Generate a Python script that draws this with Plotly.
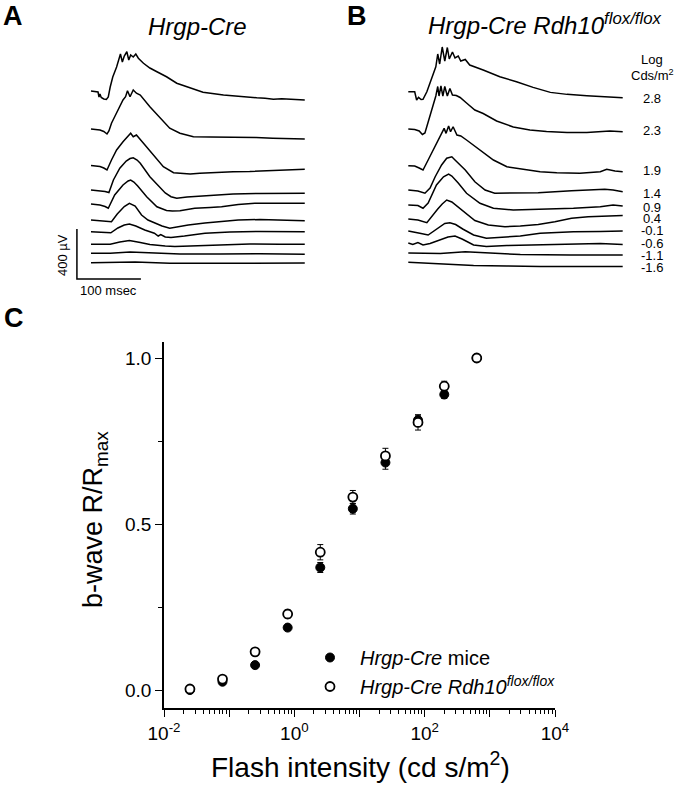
import plotly.graph_objects as go

W, H = 675, 789
FONT = "Arial, Liberation Sans, sans-serif"

# ---------------- Panel A / B data : ERG traces (time ms, amplitude uV) ----------------
INTENSITY_LABELS = ["2.8", "2.3", "1.9", "1.4", "0.9", "0.4", "-0.1", "-0.6", "-1.1", "-1.6"]

HC_OFFSETS = [1504, 1200, 908, 712, 600, 472, 378, 278, 206, 130]
RDH_OFFSETS = [1498, 1200, 906, 712, 592, 480, 384, 288, 208, 134]

HC_28_T = [0, 8, 11, 12.5, 14, 16, 20, 24, 27, 30, 34, 40, 44, 46, 49, 52, 56, 59, 62, 66, 70, 74, 82, 92, 103, 118, 134, 155, 175, 207, 233, 259, 272, 285, 298, 311, 322, 334]
HC_28_V = [0, -4, -8, -48, -24, -52, -64, -68, -48, 32, 112, 192, 256, 296, 232, 280, 314, 248, 288, 272, 296, 262, 222, 184, 154, 114, 62, 22, -10, -32, -46, -54, -58, -66, -62, -66, -64, -72]
HC_23_T = [0, 14, 20, 25, 28, 32, 37, 45, 50, 54, 57, 61, 66, 71, 77, 92, 108, 123, 139, 160, 186, 206, 233, 258, 284, 311, 334]
HC_23_V = [0, -8, -20, -40, -16, 46, 98, 178, 232, 258, 306, 258, 312, 286, 272, 178, 86, 6, -34, -62, -64, -64, -62, -68, -74, -76, -80]
HC_19_T = [0, 14, 20, 25, 32, 40, 50, 58, 62, 66, 71, 82, 97, 113, 129, 142, 155, 170, 196, 222, 248, 274, 303, 334]
HC_19_V = [0, -8, -20, -36, 44, 124, 190, 230, 258, 230, 244, 178, 84, -10, -58, -62, -68, -62, -54, -50, -48, -44, -36, -30]
HC_14_T = [0, 14, 22, 28, 35, 45, 55, 61, 66, 72, 77, 92, 105, 116, 125, 134, 150, 170, 196, 222, 264, 303, 334]
HC_14_V = [0, -4, -12, -20, 80, 174, 232, 252, 258, 240, 214, 106, 40, -24, -54, -66, -56, -48, -40, -32, -28, -26, -26]
HC_09_T = [0, 14, 22, 27, 37, 50, 58, 62, 67, 73, 87, 103, 118, 127, 139, 162, 186, 204, 230, 256, 295, 334]
HC_09_V = [0, -8, -20, -34, 72, 152, 184, 192, 176, 144, 58, -22, -52, -56, -54, -34, -28, -22, -4, 6, 6, 6]
HC_04_T = [0, 14, 23, 32, 41, 52, 60, 69, 79, 89, 99, 111, 123, 136, 152, 178, 203, 230, 264, 303, 334]
HC_04_V = [0, -4, -8, -14, 48, 108, 134, 112, 40, 0, -22, -48, -66, -54, -40, -24, -14, 0, 4, 0, -6]
HC_m01_T = [0, 22, 31, 42, 52, 60, 70, 84, 99, 105, 109, 116, 125, 146, 178, 217, 264, 334]
HC_m01_V = [0, -2, -8, 30, 54, 62, 46, 14, -12, -34, -22, -42, -46, -34, -12, -2, 2, 0]
HC_m06_T = [0, 30, 45, 60, 77, 92, 116, 131, 155, 202, 248, 295, 334]
HC_m06_V = [0, 0, 18, 29, 14, -2, -14, -19, -14, -6, 2, 0, 0]
HC_m11_T = [0, 30, 61, 92, 139, 202, 264, 334]
HC_m11_V = [0, 0, 10, 6, -6, -6, -4, -8]
HC_m16_T = [0, 45, 69, 123, 202, 264, 334]
HC_m16_V = [0, 3, 6, -5, -6, -2, -2]

RDH_28_T = [0, 10, 13, 16, 20, 23, 29, 34, 39, 43, 46, 49, 53, 57, 61, 64, 69, 73, 78, 82, 89, 96, 117, 143, 169, 195, 222, 248, 279, 310, 335]
RDH_28_V = [0, 0, -66, -45, -62, -61, 0, 67, 147, 200, 302, 222, 358, 246, 354, 262, 318, 270, 286, 246, 258, 214, 174, 120, 80, 35, -5, -21, -32, -40, -48]
RDH_23_T = [0, 10, 17, 22, 26, 31, 35, 39, 43, 46, 48, 51, 54, 57, 61, 65, 69, 75, 81, 91, 104, 117, 138, 164, 190, 216, 248, 279, 300, 315, 335]
RDH_23_V = [0, -4, -16, -44, -32, 56, 128, 184, 264, 340, 264, 344, 264, 340, 264, 324, 272, 268, 252, 208, 152, 124, 64, 16, -8, -20, -28, -28, -20, -16, -22]
RDH_19_T = [0, 10, 17, 23, 31, 39, 47, 52, 56, 59, 63, 66, 70, 76, 82, 91, 112, 133, 154, 180, 206, 232, 268, 300, 310, 323, 335]
RDH_19_V = [0, -2, -18, -34, 46, 126, 206, 259, 299, 259, 318, 272, 312, 246, 238, 206, 126, 46, -8, -29, -48, -56, -61, -48, -29, -42, -48]
RDH_14_T = [0, 15, 26, 34, 42, 52, 60, 68, 73, 89, 104, 120, 135, 162, 203, 255, 307, 320, 335]
RDH_14_V = [0, -8, -26, 16, 106, 200, 254, 266, 240, 160, 66, 0, -26, -26, -22, -6, 6, 0, -14]
RDH_09_T = [0, 15, 23, 31, 44, 55, 63, 68, 78, 91, 112, 133, 164, 206, 258, 300, 320, 335]
RDH_09_V = [0, -4, -26, 16, 160, 226, 248, 232, 176, 94, 14, -26, -40, -34, -26, -14, 0, -8]
RDH_04_T = [0, 15, 29, 37, 46, 53, 60, 68, 78, 89, 104, 125, 151, 175, 203, 229, 255, 281, 307, 335]
RDH_04_V = [0, -8, -30, 24, 80, 120, 152, 136, 96, 46, -12, -48, -62, -56, -44, -22, 6, 18, 24, 28]
RDH_m01_T = [0, 10, 18, 31, 40, 50, 57, 65, 74, 85, 102, 122, 154, 175, 206, 258, 300, 335]
RDH_m01_V = [0, -8, -18, -32, 0, 34, 60, 66, 52, 16, -32, -58, -50, -40, -18, -6, -4, 0]
RDH_m06_T = [0, 7, 15, 23, 34, 50, 62, 73, 84, 102, 122, 154, 206, 258, 300, 335]
RDH_m06_V = [0, -12, 4, -16, -4, 24, 48, 56, 32, -16, -28, -20, -16, -12, -4, -12]
RDH_m11_T = [0, 50, 89, 128, 175, 253, 335]
RDH_m11_V = [0, -4, 10, 0, -12, -16, -16]
RDH_m16_T = [0, 50, 102, 154, 206, 335]
RDH_m16_V = [0, -14, -26, -30, -35, -35]

HC_TRACES = [(HC_28_T, HC_28_V), (HC_23_T, HC_23_V), (HC_19_T, HC_19_V), (HC_14_T, HC_14_V),
             (HC_09_T, HC_09_V), (HC_04_T, HC_04_V), (HC_m01_T, HC_m01_V), (HC_m06_T, HC_m06_V),
             (HC_m11_T, HC_m11_V), (HC_m16_T, HC_m16_V)]
RDH_TRACES = [(RDH_28_T, RDH_28_V), (RDH_23_T, RDH_23_V), (RDH_19_T, RDH_19_V), (RDH_14_T, RDH_14_V),
              (RDH_09_T, RDH_09_V), (RDH_04_T, RDH_04_V), (RDH_m01_T, RDH_m01_V), (RDH_m06_T, RDH_m06_V),
              (RDH_m11_T, RDH_m11_V), (RDH_m16_T, RDH_m16_V)]

SCALE_BAR_MS = 100
SCALE_BAR_UV = 400

# ---------------- Panel C data ----------------
FLASH_INTENSITY = [0.025, 0.079, 0.25, 0.79, 2.5, 7.9, 25, 79, 200, 630]
HC_RRMAX = [0.0, 0.025, 0.075, 0.188, 0.369, 0.546, 0.685, 0.813, 0.890, 1.0]
HC_ERR = [0.004, 0.006, 0.005, 0.008, 0.015, 0.016, 0.02, 0.015, 0.012, 0.0]
RDH_RRMAX = [0.003, 0.033, 0.115, 0.229, 0.415, 0.581, 0.705, 0.806, 0.915, 1.0]
RDH_ERR = [0.005, 0.006, 0.005, 0.012, 0.023, 0.02, 0.023, 0.023, 0.015, 0.004]


def px(x):
    return x / W


def py(y):
    return 1 - y / H


fig = go.Figure()

# ERG traces
for (t, v), off in zip(HC_TRACES, HC_OFFSETS):
    fig.add_trace(go.Scatter(x=t, y=[a + off for a in v], mode="lines",
                             line=dict(color="black", width=1.5), showlegend=False,
                             xaxis="x", yaxis="y", hoverinfo="skip"))
for (t, v), off in zip(RDH_TRACES, RDH_OFFSETS):
    fig.add_trace(go.Scatter(x=t, y=[a + off for a in v], mode="lines",
                             line=dict(color="black", width=1.5), showlegend=False,
                             xaxis="x2", yaxis="y2", hoverinfo="skip"))

# scale bar
sb_t0 = -22
fig.add_trace(go.Scatter(x=[sb_t0, sb_t0, sb_t0 + SCALE_BAR_MS], y=[SCALE_BAR_UV, 0, 0],
                         mode="lines", line=dict(color="black", width=1.5),
                         showlegend=False, xaxis="x", yaxis="y", hoverinfo="skip"))

# Panel C
fig.add_trace(go.Scatter(x=FLASH_INTENSITY, y=HC_RRMAX, mode="markers",
                         name="<i>Hrgp-Cre</i> mice",
                         marker=dict(symbol="circle", size=9, color="black",
                                     line=dict(color="black", width=1)),
                         error_y=dict(type="data", array=HC_ERR, color="black", thickness=1, width=3),
                         xaxis="x3", yaxis="y3"))
fig.add_trace(go.Scatter(x=FLASH_INTENSITY, y=RDH_RRMAX, mode="markers",
                         name="<i>Hrgp-Cre Rdh10<sup>flox/flox</sup></i>",
                         marker=dict(symbol="circle", size=9, color="white",
                                     line=dict(color="black", width=1.8)),
                         error_y=dict(type="data", array=RDH_ERR, color="black", thickness=1, width=3),
                         xaxis="x3", yaxis="y3"))

hidden = dict(visible=False, showgrid=False, zeroline=False, automargin=False)

fig.update_layout(
    width=W, height=H,
    margin=dict(l=0, r=0, t=0, b=0, autoexpand=False),
    paper_bgcolor="white", plot_bgcolor="white",
    font=dict(family=FONT, color="black"),
    xaxis=dict(domain=[px(60), px(330)], range=[(60 - 91) * 1.5625, (330 - 91) * 1.5625], anchor="y", **hidden),
    yaxis=dict(domain=[py(300), py(40)], range=[-168, 1912], anchor="x", **hidden),
    xaxis2=dict(domain=[px(380), px(640)], range=[(380 - 408.3) * 1.5625, (640 - 408.3) * 1.5625], anchor="y2", **hidden),
    yaxis2=dict(domain=[py(300), py(40)], range=[-168, 1912], anchor="x2", **hidden),
    xaxis3=dict(domain=[px(164), px(555)], type="log", range=[-2, 4], anchor="y3", automargin=False,
                showline=True, linecolor="black", linewidth=1.5, showgrid=False, zeroline=False,
                ticks="outside", ticklen=7, tickwidth=1.2, tickcolor="black",
                tickvals=[0.01, 0.1, 1, 10, 100, 1000, 10000],
                ticktext=["10<sup>-2</sup>", " ", "10<sup>0</sup>", " ", "10<sup>2</sup>", " ", "10<sup>4</sup>"],
                tickfont=dict(size=19, family=FONT),
                minor=dict(ticks="outside", ticklen=4, tickwidth=1, tickcolor="black",
                           tickvals=[m * 10 ** e for e in range(-2, 4) for m in range(2, 10)])),
    yaxis3=dict(domain=[py(708), py(342)], range=[-0.0542, 1.0482], anchor="x3", automargin=False,
                showline=True, linecolor="black", linewidth=1.5, showgrid=False, zeroline=False,
                ticks="outside", ticklen=7, tickwidth=1.2, tickcolor="black",
                tickvals=[0, 0.5, 1.0], ticktext=["0.0", "0.5", "1.0"],
                tickfont=dict(size=19, family=FONT),
                minor=dict(ticks="outside", ticklen=4, tickwidth=1, tickcolor="black",
                           tickvals=[0.25, 0.75])),
    legend=dict(x=px(300), y=py(638), xanchor="left", yanchor="top",
                font=dict(size=20, family=FONT), bgcolor="rgba(0,0,0,0)",
                itemwidth=50, tracegroupgap=0),
)

ann = []


def add_text(text, x, y, size, bold=False, angle=0, xanchor="center", yanchor="middle"):
    ann.append(dict(text=("<b>%s</b>" % text) if bold else text, x=px(x), y=py(y),
                    xref="paper", yref="paper", showarrow=False, textangle=angle,
                    xanchor=xanchor, yanchor=yanchor, font=dict(size=size, family=FONT, color="black")))


add_text("A", 13, 16, 27, bold=True)
add_text("B", 357, 16, 27, bold=True)
add_text("C", 14, 318, 27, bold=True)
add_text("<i>Hrgp-Cre</i>", 197, 26, 24)
add_text("<i>Hrgp-Cre Rdh10<sup>flox/flox</sup></i>", 545, 24, 24)
add_text("400 \u00b5V", 62, 255, 13, angle=-90)
add_text("100 msec", 108, 291, 13)
add_text("Log", 652, 60, 13)
add_text("Cds/m<sup>2</sup>", 652, 75, 13)
label_y = [98, 130, 171, 193, 207, 218, 230, 243, 255, 268]
for lab, yy in zip(INTENSITY_LABELS, label_y):
    add_text(lab, 652, yy, 13)
add_text("b-wave R/R<sub>max</sub>", 95, 520, 27, angle=-90)
add_text("Flash intensity (cd s/m<sup>2</sup>)", 360, 765, 28)

fig.update_layout(annotations=ann)
fig.write_html("out.html", config={"displayModeBar": False},
               post_script="document.body.style.margin='0px';document.body.style.padding='0px';document.body.style.overflow='hidden';")
